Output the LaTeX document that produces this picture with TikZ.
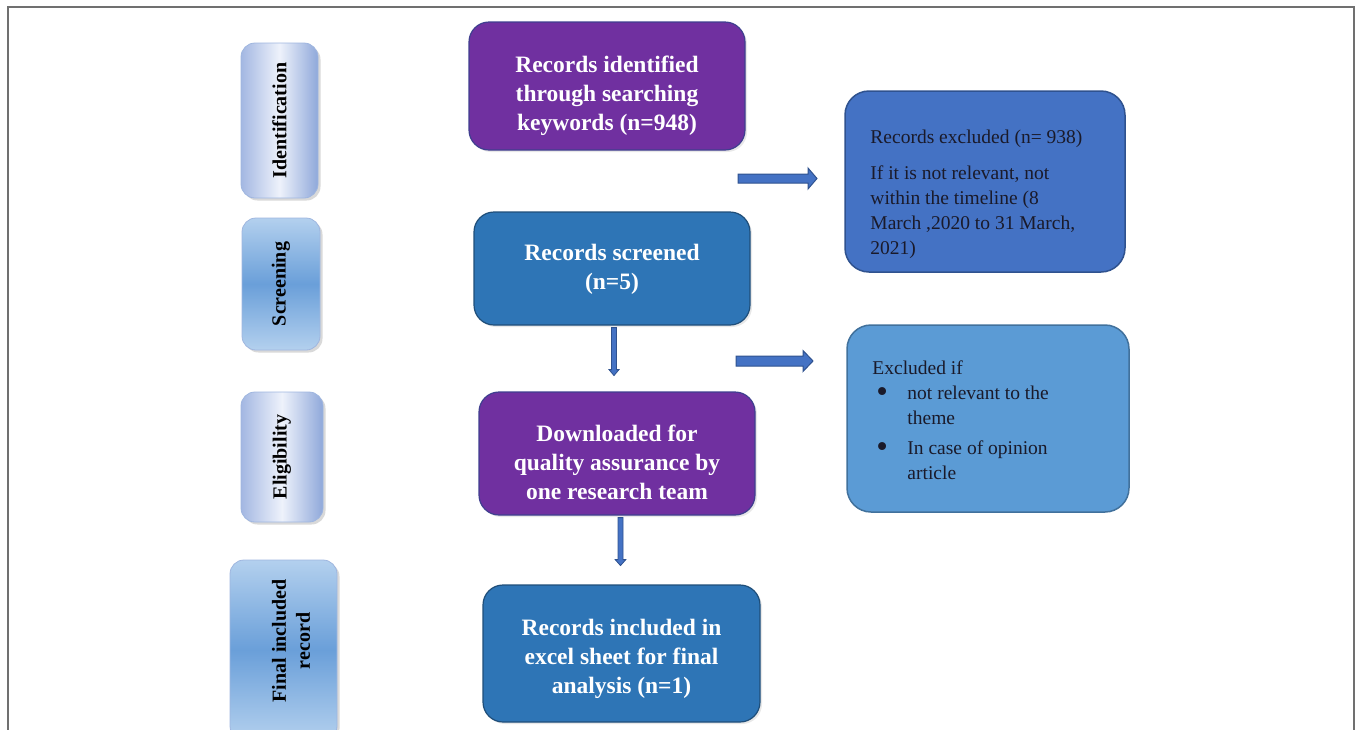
\documentclass[tikz,border=0pt]{standalone}
\usepackage{fontspec}
\setmainfont{Liberation Serif}
\usetikzlibrary{shadows,calc}
\definecolor{purp}{HTML}{7030A0}
\definecolor{purpline}{HTML}{3F3F8F}
\definecolor{mblue}{HTML}{2E75B6}
\definecolor{mblueline}{HTML}{1F4E79}
\definecolor{exA}{HTML}{4472C4}
\definecolor{exAline}{HTML}{2F528F}
\definecolor{exB}{HTML}{5B9BD5}
\definecolor{exBline}{HTML}{41719C}
\definecolor{lavL}{HTML}{A3B7E2}
\definecolor{lavM}{HTML}{EEF2FB}
\definecolor{lavR}{HTML}{8FA8DA}
\definecolor{skyT}{HTML}{B3D0EE}
\definecolor{skyM}{HTML}{6A9FD9}
\definecolor{lblline}{HTML}{9FB6DF}
\definecolor{frame}{HTML}{707070}
\definecolor{extext}{HTML}{1A1A2A}
\newcommand{\bigbul}{\raisebox{-3.6pt}{\scalebox{1.7}{\textbullet}}}
\begin{document}
\begin{tikzpicture}[x=1pt,y=-1pt,
  mainbox/.style={rounded corners=20pt, draw=#1line, fill=#1, line width=1.2pt, inner sep=0pt,
    drop shadow={shadow xshift=2pt,shadow yshift=-2pt,opacity=0.18}},
  maintext/.style={text=white, font=\fontsize{23.5}{29}\selectfont\bfseries, align=center, inner sep=0pt},
  exbox/.style={rounded corners=24pt, draw=#1line, fill=#1, line width=1.5pt, inner sep=0pt},
  extxt/.style={text=extext, font=\fontsize{19.5}{25}\selectfont, align=left, inner sep=0pt, anchor=north west},
  lblbox/.style={rounded corners=14pt, draw=lblline, line width=0.8pt, inner sep=0pt,
    drop shadow={shadow xshift=2.5pt,shadow yshift=-2.5pt,opacity=0.3}},
  lavshade/.style={left color=lavL, right color=lavR, middle color=lavM},
  skyshade/.style={top color=skyT, bottom color=skyT, middle color=skyM},
  lbltext/.style={rotate=90, font=\fontsize{20}{24}\selectfont\bfseries, align=center, text=black},
  barrow/.style={fill=exA, draw=exAline, line width=1pt, line join=miter}
]
\useasboundingbox (0,0) rectangle (1357,729);

% frame
\draw[frame, line width=2pt] (8,740) -- (8,7) -- (1354,7) -- (1354,740);

% stage labels
\node[lblbox, lavshade, minimum width=77pt, minimum height=155pt] (idbox) at (279.5,120.5) {};
\node[lbltext] (idtxt) at (idbox.center) {Identification};
\node[lblbox, skyshade, minimum width=78pt, minimum height=132pt] (scbox) at (281,284) {};
\node[lbltext] (sctxt) at (scbox.center) {Screening};
\node[lblbox, lavshade, minimum width=82pt, minimum height=130pt] (elbox) at (282,457) {};
\node[lbltext] (eltxt) at (elbox.center) {Eligibility};
\node[lblbox, skyshade, minimum width=107pt, minimum height=180pt] (fibox) at (283.5,650) {};
\node[lbltext] (fitxt) at (291,641) {Final included\\record};

% main boxes
\node[mainbox=purp, minimum width=276pt, minimum height=128pt] (ident) at (607,86) {};
\node[maintext] (identT) at ($(ident.center)+(0,10)$) {Records identified\\through searching\\keywords (n=948)};
\node[mainbox=mblue, minimum width=276pt, minimum height=113pt] (screen) at (612,268.5) {};
\node[maintext] (screenT) at ($(screen.center)+(0,0.5)$) {Records screened\\(n=5)};
\node[mainbox=purp, minimum width=276pt, minimum height=123pt] (elig) at (617,453.5) {};
\node[maintext] (eligT) at ($(elig.center)+(0,8.5)$) {Downloaded for\\quality assurance by\\one research team};
\node[mainbox=mblue, minimum width=277pt, minimum height=137pt] (final) at (621.5,653.5) {};
\node[maintext] (finalT) at ($(final.center)+(0,5)$) {Records included in\\excel sheet for final\\analysis (n=1)};

% exclusion boxes
\node[exbox=exA, minimum width=280pt, minimum height=181pt] (excl1) at (985,181.5) {};
\node[extxt] (excl1T) at ($(excl1.north west)+(26,40)$)
  {Records excluded (n= 938)\\[11pt]If it is not relevant, not\\within the timeline (8\\March ,2020 to 31 March,\\2021)};
\node[exbox=exB, minimum width=282pt, minimum height=187pt] (excl2) at (988,418.5) {};
\node[extxt] (excl2T) at ($(excl2.north west)+(26,36)$)
  {Excluded if\\
   \hspace*{4pt}\makebox[31pt][l]{\bigbul}not relevant to the\\
   \hspace*{35pt}theme\\[5pt]
   \hspace*{4pt}\makebox[31pt][l]{\bigbul}In case of opinion\\
   \hspace*{35pt}article};

% block arrows (right)
\coordinate (ra1) at (738,178.5);
\coordinate (ra2) at (736,361);
\draw[barrow] (ra1) ++(0,-4.5) -- ++(70,0) -- ++(0,-6) -- ++(9,10.5) -- ++(-9,10.5) -- ++(0,-6) -- ++(-70,0) -- cycle;
\draw[barrow] (ra2) ++(0,-5) -- ++(67,0) -- ++(0,-5.5) -- ++(10,10.5) -- ++(-10,10.5) -- ++(0,-5.5) -- ++(-67,0) -- cycle;

% block arrows (down)
\coordinate (da1) at ($(screen.south)+(2,2)$);
\coordinate (da2) at ($(elig.south)+(3.5,2)$);
\draw[barrow, line width=0.8pt] (da1) ++(-2.5,0) -- ++(0,42) -- ++(-2.5,0) -- ++(5,6) -- ++(5,-6) -- ++(-2.5,0) -- ++(0,-42) -- cycle;
\draw[barrow, line width=0.8pt] (da2) ++(-2.5,0) -- ++(0,42) -- ++(-2.8,0) -- ++(5.3,6) -- ++(5.3,-6) -- ++(-2.8,0) -- ++(0,-42) -- cycle;
\end{tikzpicture}
\end{document}
